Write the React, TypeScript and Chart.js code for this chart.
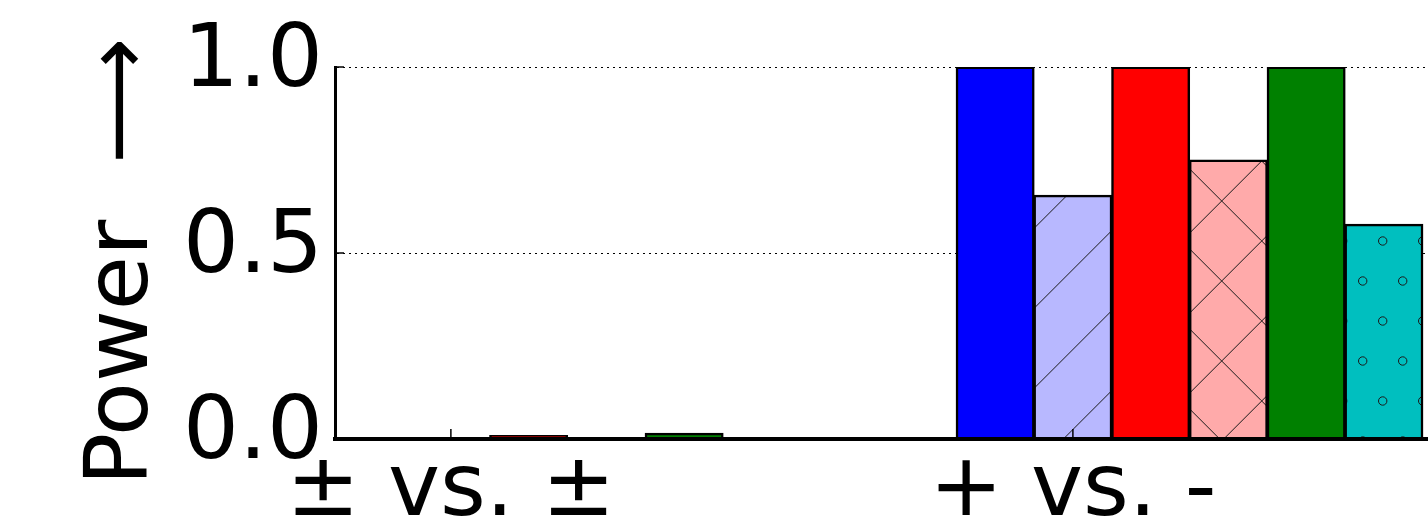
import React, { useEffect, useRef } from "react";
import { Chart, registerables } from "chart.js";

Chart.register(...registerables);

const categories = ["± vs. ±", "+ vs. -"];
const seriesBlue = [0.004, 1.0];
const seriesLightBlue = [0.002, 0.655];
const seriesRed = [0.009, 1.0];
const seriesPink = [0.001, 0.75];
const seriesGreen = [0.015, 1.0];
const seriesCyan = [0.002, 0.577];
const yTicks = [0, 0.5, 1.0];
const yTitle = "Power  ⟶\u2009";

const FONT = "'DejaVu Sans', sans-serif";

function makeHatch(kind: string, bg: string): CanvasPattern | string {
  const w = kind === "o" ? 40 : 80;
  const h = 80;
  const c = document.createElement("canvas");
  c.width = w;
  c.height = h;
  const g = c.getContext("2d");
  if (!g) return bg;
  g.fillStyle = bg;
  g.fillRect(0, 0, w, h);
  g.strokeStyle = "#1a1a1a";
  g.lineWidth = 1;
  if (kind === "/" || kind === "x") {
    const c0 = kind === "/" ? 62.4 : 62.7;
    for (let k = -2; k <= 3; k++) {
      const cc = c0 + 80 * k;
      g.beginPath();
      g.moveTo(cc, 0);
      g.lineTo(cc - 80, 80);
      g.stroke();
    }
  }
  if (kind === "x") {
    const d0 = 60.7;
    for (let k = -2; k <= 3; k++) {
      const dd = d0 + 80 * k;
      g.beginPath();
      g.moveTo(dd, 0);
      g.lineTo(dd + 80, 80);
      g.stroke();
    }
  }
  if (kind === "o") {
    const pts = [
      [22.7, 1],
      [2.7, 41],
    ];
    for (const [px, py] of pts) {
      for (let ox = -1; ox <= 1; ox++) {
        for (let oy = -1; oy <= 1; oy++) {
          g.beginPath();
          g.arc(px + ox * w, py + oy * h, 4.2, 0, Math.PI * 2);
          g.stroke();
        }
      }
    }
  }
  const p = g.createPattern(c, "repeat");
  return p || bg;
}

const innerTicks = {
  id: "innerTicks",
  afterDraw(chart: any) {
    const { ctx, chartArea, scales } = chart;
    ctx.save();
    ctx.strokeStyle = "#000";
    ctx.lineWidth = 1.5;
    yTicks.forEach((v) => {
      if (v === 0) return;
      const y = scales.y.getPixelForValue(v);
      ctx.beginPath();
      ctx.moveTo(chartArea.left, y);
      ctx.lineTo(chartArea.left + 9, y);
      ctx.stroke();
    });
    scales.x.ticks.forEach((t: any) => {
      const x = scales.x.getPixelForValue(t.value);
      ctx.beginPath();
      ctx.moveTo(x, chartArea.bottom);
      ctx.lineTo(x, chartArea.bottom - 10);
      ctx.stroke();
    });
    ctx.restore();
  },
};

export default function App() {
  const ref = useRef<HTMLCanvasElement | null>(null);

  useEffect(() => {
    if (!ref.current) return;
    const toPts = (arr: number[]) => arr.map((v, i) => ({ x: i, y: v }));
    const base = {
      borderColor: "#000",
      borderWidth: 2.5,
      inflateAmount: 0.6,
      categoryPercentage: 0.75,
      barPercentage: 1.0,
    };
    const chart = new Chart(ref.current, {
      type: "bar",
      data: {
        datasets: [
          { ...base, label: "a", data: toPts(seriesBlue), backgroundColor: "#0000ff" },
          { ...base, label: "b", data: toPts(seriesLightBlue), backgroundColor: makeHatch("/", "#b8b8ff") },
          { ...base, label: "c", data: toPts(seriesRed), backgroundColor: "#ff0000" },
          { ...base, label: "d", data: toPts(seriesPink), backgroundColor: makeHatch("x", "#ffaaaa") },
          { ...base, label: "e", data: toPts(seriesGreen), backgroundColor: "#008000" },
          { ...base, label: "f", data: toPts(seriesCyan), backgroundColor: makeHatch("o", "#00bfbf") },
        ] as any,
      },
      options: {
        animation: false,
        responsive: true,
        maintainAspectRatio: false,
        layout: { padding: { top: 67, left: 0, right: 0, bottom: 0 } },
        plugins: { legend: { display: false }, tooltip: { enabled: false } },
        scales: {
          x: {
            type: "linear",
            min: -0.3738,
            max: 1.3834,
            offset: false,
            afterBuildTicks: (s: any) => {
              s.ticks = categories.map((_, i) => ({ value: i - 0.1875 }));
            },
            afterFit: (s: any) => {
              s.height = 89;
            },
            ticks: {
              autoSkip: false,
              maxRotation: 0,
              minRotation: 0,
              padding: 9,
              color: "#000",
              font: { family: FONT, size: 88, lineHeight: 1 },
              callback: (_v: any, i: number) => categories[i],
            },
            grid: { display: false, drawTicks: false },
            border: { display: true, color: "#000", width: 4, z: 1 },
          },
          y: {
            min: 0,
            max: 1,
            afterBuildTicks: (s: any) => {
              s.ticks = yTicks.map((v) => ({ value: v }));
            },
            afterFit: (s: any) => {
              s.width = 335;
            },
            ticks: {
              padding: 12,
              labelOffset: -4,
              color: "#000",
              font: { family: FONT, size: 88, lineHeight: 1 },
              callback: (v: any) => Number(v).toFixed(1),
            },
            grid: {
              drawTicks: false,
              lineWidth: 1,
              color: (ctx: any) => (ctx.tick && ctx.tick.value > 0 ? "#000" : "rgba(0,0,0,0)"),
            },
            border: { display: true, color: "#000", width: 3, dash: [2, 4], z: 1 },
            title: {
              display: true,
              text: yTitle,
              color: "#000",
              font: { family: FONT, size: 88, lineHeight: 1 },
              padding: { top: 80, bottom: 0 },
            },
          },
        },
      } as any,
      plugins: [innerTicks],
    });
    return () => chart.destroy();
  }, []);

  return (
    <div style={{ position: "absolute", left: 0, top: 0, width: 1428, height: 528, background: "#fff" }}>
      <canvas ref={ref} />
    </div>
  );
}
